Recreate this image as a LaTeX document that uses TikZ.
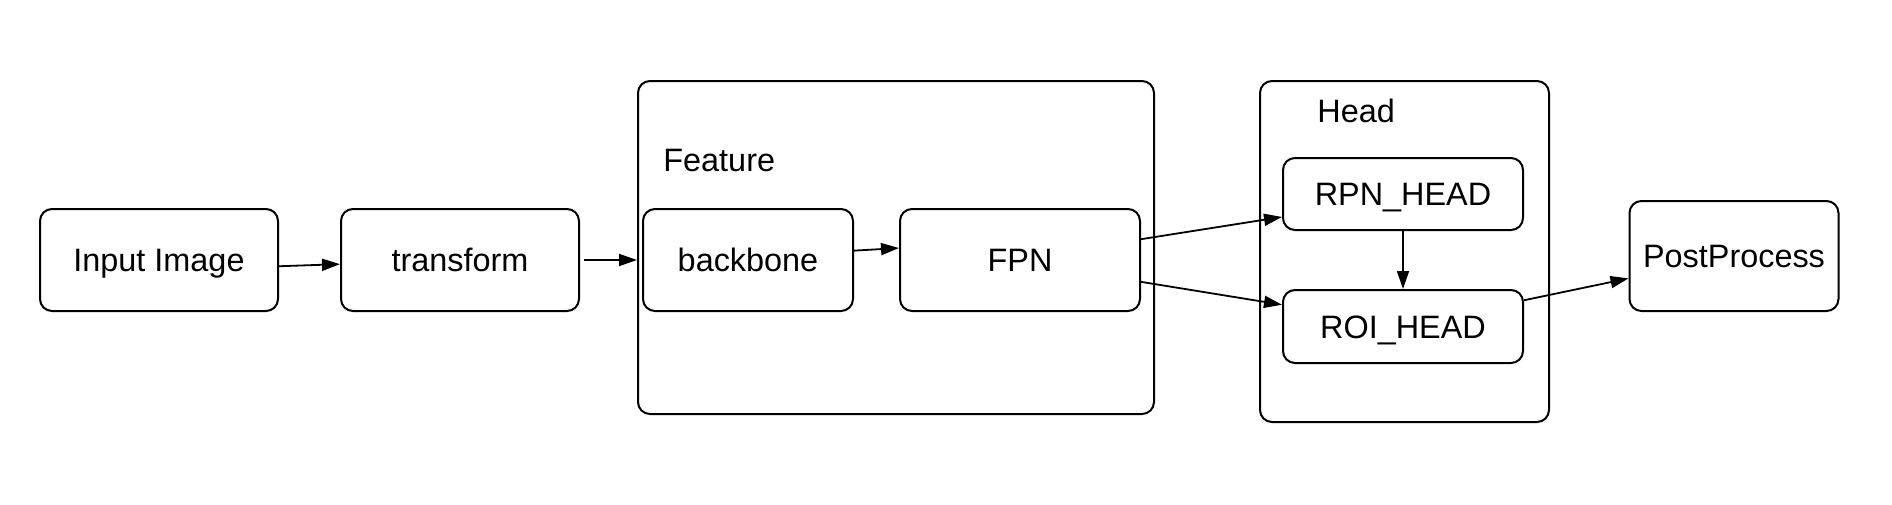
\documentclass[tikz,border=0pt]{standalone}
\usepackage{fontspec}
\setmainfont{Liberation Sans}
\usetikzlibrary{positioning,calc,arrows.meta}

\begin{document}
\begin{tikzpicture}[x=0.5pt,y=-0.5pt,
    >={Triangle[length=9pt,width=6pt]},
    every node/.style={font=\fontsize{16.2}{19}\selectfont},
    box/.style={draw,line width=1pt,rounded corners=6pt,align=center,inner sep=0pt,text height=11.6pt,text depth=0pt,minimum width=119pt,minimum height=51pt},
    group/.style={draw,line width=1pt,rounded corners=6pt,inner sep=0pt},
    tag/.style={anchor=base west,inner sep=0pt}]
    \useasboundingbox (0,0) rectangle (1892,504);
    \draw
        node[group,minimum width=258pt,minimum height=166.5pt] (feature) at (896,247.5) {}
        node[tag] (featurelbl) at (663,171) {Feature}

        node[group,minimum width=144.5pt,minimum height=170.5pt] (head) at (1404.5,251.5) {}
        node[tag] (headlbl) at (1317,122) {Head}

        node[box] (input) at (159,260) {Input Image}
        node[box,right=30.5pt of input] (transform) {transform}
        node[box,right=31pt of transform,minimum width=105pt] (backbone) {backbone}
        node[box,right=22.5pt of backbone,minimum width=120pt] (fpn) {FPN}

        node[box,minimum width=120pt,minimum height=36pt] (rpn) at (1403,194) {RPN\_HEAD}
        node[box,below=29pt of rpn,minimum width=120pt,minimum height=36.5pt] (roi) {ROI\_HEAD}

        node[box,minimum width=104.5pt,minimum height=55pt] (post) at (1734,256) {PostProcess}
    ;

    \draw[->,line width=0.9pt] ($(input.north east)!.56!(input.south east)$)-- ($(transform.north west)!.54!(transform.south west)$);
    \draw[->,line width=0.9pt,shorten <=2pt] (transform.east)-- (transform -| feature.west);
    \draw[->,line width=0.9pt] ($(backbone.north east)!.41!(backbone.south east)$)-- ($(fpn.north west)!.385!(fpn.south west)$);
    \draw[->,line width=0.9pt] ($(fpn.north east)!.3!(fpn.south east)$)-- ($(rpn.north west)!.81!(rpn.south west)$);
    \draw[->,line width=0.9pt] ($(fpn.north east)!.71!(fpn.south east)$)-- ($(roi.north west)!.21!(roi.south west)$);
    \draw[->,line width=0.9pt] (rpn)-- (roi);
    \draw[->,line width=0.9pt] ($(roi.north east)!.15!(roi.south east)$)-- ($(post.north west)!.7!(post.south west)$);
\end{tikzpicture}
\end{document}
